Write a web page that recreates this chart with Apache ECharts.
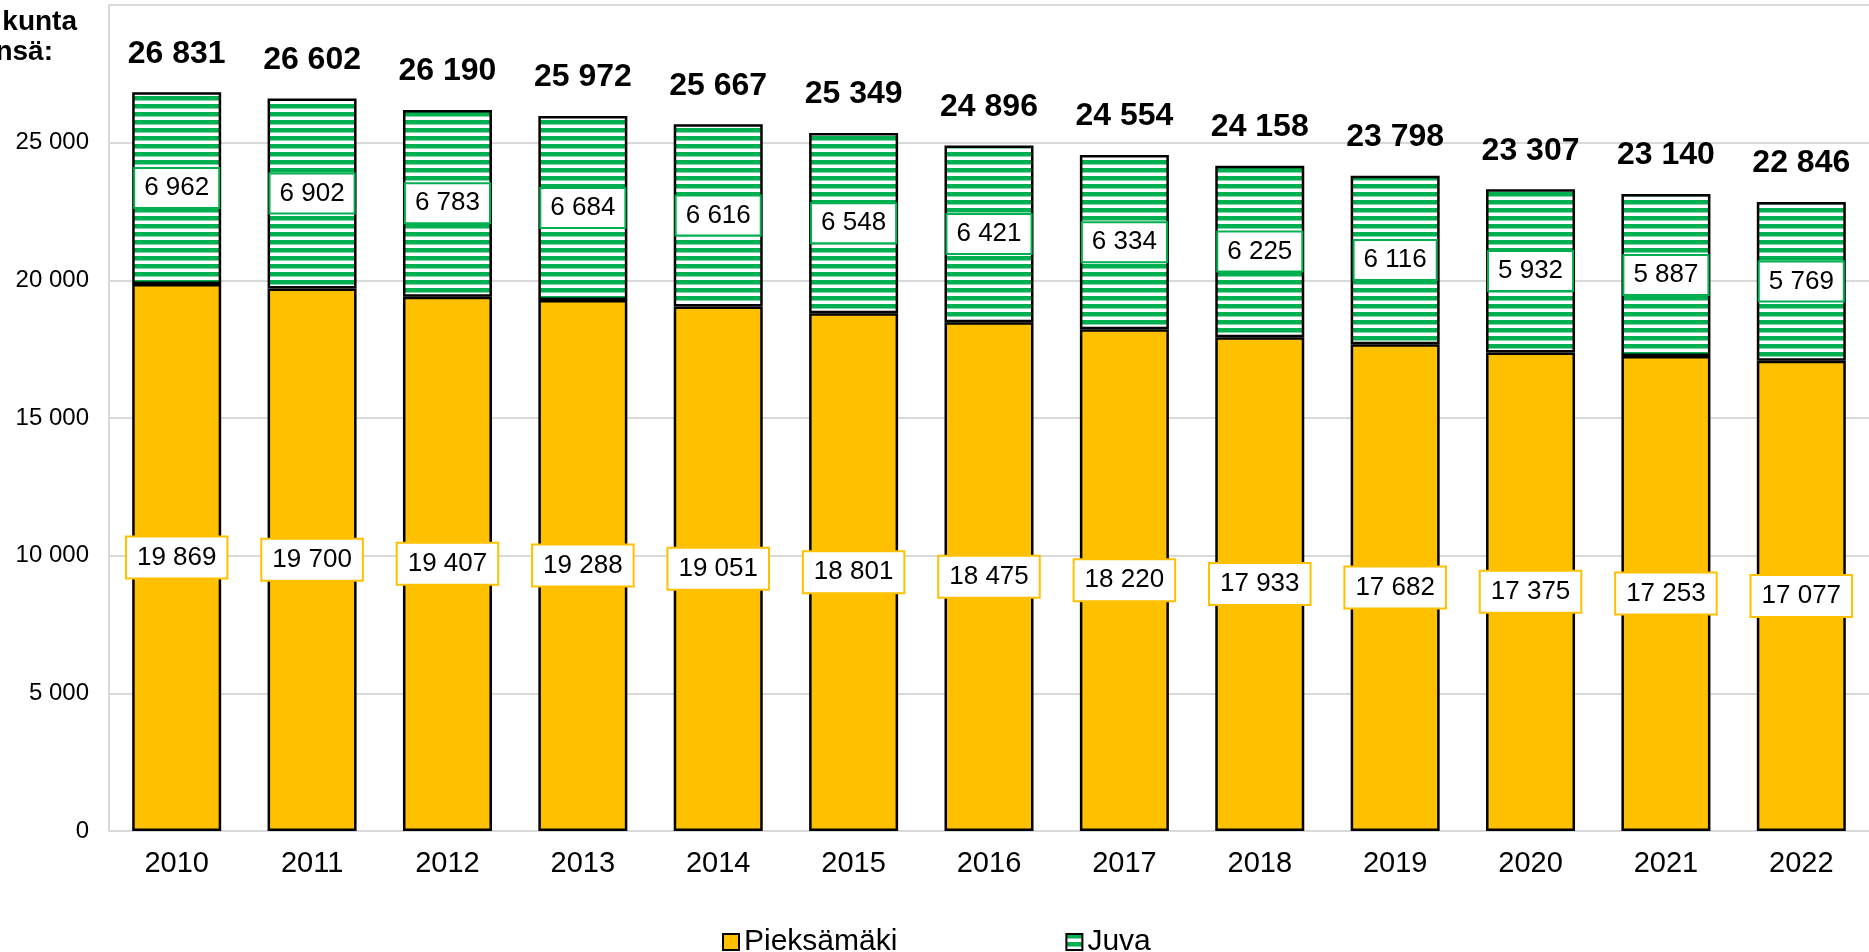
<!DOCTYPE html>
<html>
<head>
<meta charset="utf-8">
<script src="https://cdn.jsdelivr.net/npm/echarts@6/dist/echarts.min.js"></script>
<style>
html,body{margin:0;padding:0;background:#fff;}
#chart{width:1869px;height:952px;}
</style>
</head>
<body>
<div id="chart"></div>
<script>
const categories = ['2010','2011','2012','2013','2014','2015','2016','2017','2018','2019','2020','2021','2022'];
const pieksamaki = [19869,19700,19407,19288,19051,18801,18475,18220,17933,17682,17375,17253,17077];
const juva = [6962,6902,6783,6684,6616,6548,6421,6334,6225,6116,5932,5887,5769];
const totals = [26831,26602,26190,25972,25667,25349,24896,24554,24158,23798,23307,23140,22846];
const seriesNames = ['Pieksämäki','Juva'];
const titleLines = ['kunta','nsä:'];

const FONT = '"Liberation Sans", Arial, sans-serif';
const ORANGE = '#FFC000';
const GREEN = '#00B050';
const fmt = v => String(v).replace(/\B(?=(\d{3})+(?!\d))/g, ' ');

// horizontal stripe pattern
const pc = document.createElement('canvas');
pc.width = 8; pc.height = 8;
const pctx = pc.getContext('2d');
pctx.fillStyle = '#ffffff';
pctx.fillRect(0,0,8,8);
pctx.fillStyle = GREEN;
pctx.fillRect(0,0,8,4.5);

const chart = echarts.init(document.getElementById('chart'), null, {renderer:'canvas'});
chart.setOption({
  animation:false,
  backgroundColor:'#fff',
  textStyle:{fontFamily:FONT},
  grid:{left:109, top:5, width:1778, height:826, containLabel:false},
  graphic:[
    {type:'text', right:1869-77, top:8, style:{text:titleLines[0], font:'bold 28px '+FONT, fill:'#000', textAlign:'right'}},
    {type:'text', right:1869-53, top:38, style:{text:titleLines[1], font:'bold 28px '+FONT, fill:'#000', textAlign:'right'}}
  ],
  legend:{
    data:seriesNames,
    icon:'rect',
    left:717, top:922,
    itemWidth:16, itemHeight:16, itemGap:168,
    textStyle:{fontSize:30, color:'#000', fontFamily:FONT, lineHeight:30},
    itemStyle:{borderColor:'#000', borderWidth:2}
  },
  xAxis:{
    type:'category', data:categories,
    axisLine:{show:true, lineStyle:{color:'#D9D9D9', width:2}},
    axisTick:{show:false},
    axisLabel:{fontSize:29, color:'#000', margin:18, fontFamily:FONT}
  },
  yAxis:{
    type:'value', min:0, max:30000, interval:5000,
    axisLine:{show:true, lineStyle:{color:'#D9D9D9', width:2}},
    axisTick:{show:false},
    splitLine:{show:true, lineStyle:{color:'#D9D9D9', width:2}},
    axisLabel:{fontSize:24, color:'#000', margin:20, showMaxLabel:false, fontFamily:FONT, formatter:fmt}
  },
  series:[
    {
      name:seriesNames[0], type:'bar', stack:'a', barWidth:89, data:pieksamaki,
      itemStyle:{color:ORANGE, borderColor:'#000', borderWidth:2.5},
      label:{show:true, position:'inside', formatter:p=>fmt(p.value), fontSize:26, color:'#000',
        backgroundColor:'#fff', borderColor:ORANGE, borderWidth:2, padding:[7,10,7,10], lineHeight:26, fontFamily:FONT}
    },
    {
      name:seriesNames[1], type:'bar', stack:'a', barWidth:89, data:juva,
      itemStyle:{color:{image:pc, repeat:'repeat'}, borderColor:'#000', borderWidth:2.5},
      label:{show:true, position:'inside', formatter:p=>fmt(p.value), fontSize:26, color:'#000',
        backgroundColor:'#fff', borderColor:GREEN, borderWidth:2, padding:[6,9,6,9], lineHeight:26, fontFamily:FONT}
    },
    {
      name:'total', type:'scatter', data:totals, symbolSize:1, silent:true,
      itemStyle:{color:'rgba(0,0,0,0)', opacity:1},
      label:{show:true, position:'top', distance:22, formatter:p=>fmt(p.value), fontSize:32, fontWeight:'bold', color:'#000', opacity:1, textBorderWidth:0, lineHeight:32, fontFamily:FONT}
    }
  ]
});
</script>
</body>
</html>
